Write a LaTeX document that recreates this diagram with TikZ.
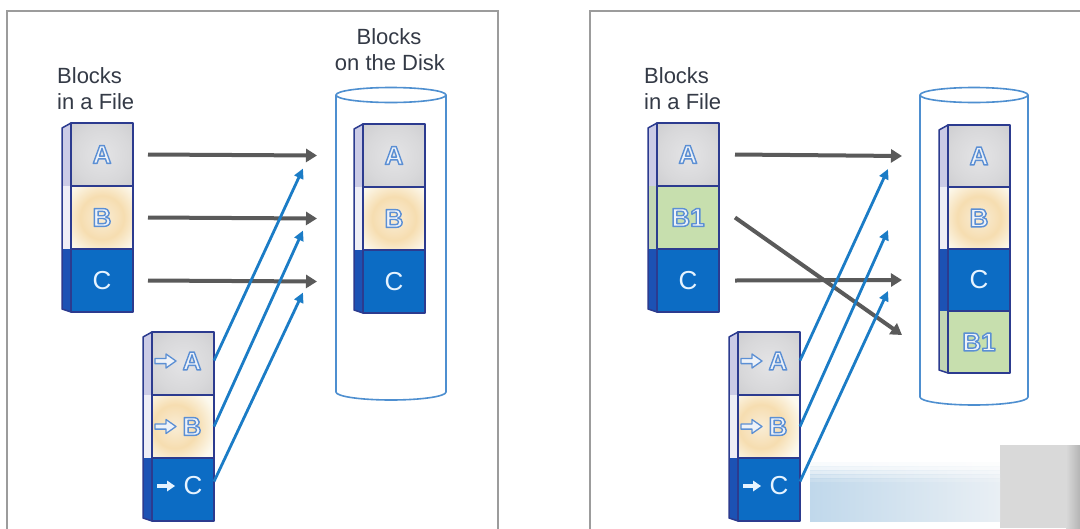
\documentclass[tikz,border=0pt]{standalone}
\usepackage{fontspec}
\setmainfont{Liberation Sans}
\usetikzlibrary{arrows.meta}
\definecolor{navy}{HTML}{2C3B8F}
\definecolor{framec}{HTML}{9C9C9C}
\definecolor{grayarrow}{HTML}{5A5A5A}
\definecolor{bluearrow}{HTML}{1B7CC6}
\definecolor{cylc}{HTML}{4E8FD0}
\definecolor{titlec}{HTML}{343A46}
\definecolor{gAo}{HTML}{B8B8BC}
\definecolor{gAm}{HTML}{C9C9CC}
\definecolor{gAn}{HTML}{D8D8DA}
\definecolor{gAi}{HTML}{E4E4E6}
\definecolor{creamc}{HTML}{FCF9EE}
\definecolor{peach}{HTML}{F6DDB0}
\definecolor{peachi}{HTML}{F9EDD6}
\definecolor{blueC}{HTML}{0C6CC4}
\definecolor{greenc}{HTML}{C7DFAE}
\definecolor{sideA}{HTML}{CBCBE6}
\definecolor{sideB}{HTML}{EEEEF6}
\definecolor{sideC}{HTML}{1C52B4}
\definecolor{sideG}{HTML}{C3D6B4}
\definecolor{olc}{HTML}{5B8FD4}
\definecolor{olf}{HTML}{EEF2F8}
\definecolor{clc}{HTML}{E6F3FF}
\definecolor{wmgray}{HTML}{D9D9D9}
\definecolor{wmdark}{HTML}{B4B4B4}
\definecolor{wmblue}{HTML}{C0D8EB}
\definecolor{wmlight}{HTML}{E9EFF4}
\pgfdeclareradialshading{glowA}{\pgfpoint{0bp}{0bp}}{color(0bp)=(gAi); color(14bp)=(gAn); color(26bp)=(gAm); color(34bp)=(gAo); color(50bp)=(gAo)}
\pgfdeclareradialshading{glowB}{\pgfpoint{0bp}{0bp}}{color(0bp)=(peachi); color(13bp)=(peach); color(25bp)=(creamc); color(50bp)=(creamc)}
\tikzset{
  blk/.style={rectangle, inner sep=0pt, outer sep=0pt, minimum width=62pt, anchor=north west},
  faceA/.style={fill=gAo}, faceB/.style={fill=creamc}, faceC/.style={fill=blueC}, faceG/.style={fill=greenc},
  bord/.style={draw=navy, line width=1.5pt, line join=round},
  lbl/.style={inner sep=0pt, font=\fontsize{26}{30}\selectfont},
  olbl/.style={inner sep=0pt, font=\fontsize{26}{30}\selectfont\bfseries},
  garr/.style={draw=grayarrow, line width=4pt, -{Triangle[length=11pt,width=13pt]}},
  barr/.style={draw=bluearrow, line width=2.8pt, -{Triangle[length=10pt,width=9.5pt]}},
  harr/.style={fill=olf, draw=olc, line width=1.3pt, line join=round},
  cyl/.style={draw=cylc, line width=1.6pt},
  frame/.style={draw=framec, line width=2pt},
  title/.style={inner sep=0pt, text=titlec, font=\fontsize{22}{26}\selectfont, anchor=base west},
  ctitle/.style={title, anchor=base}
}
\newcommand{\face}[5]{%
  \fill[side#5] (#2-9,#3) rectangle (#2,#3+#4);
  \node[blk, minimum height=#4pt, face#5] (#1) at (#2,#3) {};}
\newcommand{\glow}[4]{\begin{scope}\clip (#2.north west) rectangle (#2.south east); \shade[shading=#1] (#3) circle (#4); \end{scope}}
\newcommand{\colside}[3]{%
  \fill[white] (#1-10,#2+5.6) -- (#1-10,#2-1.5) -- (#1,#2-1.5) -- (#1,#2) -- cycle;
  \fill[white] (#1-10,#3-3.4) -- (#1-10,#3+1.5) -- (#1,#3+1.5) -- (#1,#3) -- cycle;
  \draw[bord] (#1,#2) -- (#1-9,#2+5) -- (#1-9,#3-3) -- (#1,#3);}
\newcommand{\bordr}[1]{\draw[bord] (#1.north west) rectangle (#1.south east);}
% outlined letters: fill-and-stroke text rendering mode
\newcommand{\olt}[3]{%
  \node[olbl,text=olf] (#1) at (#2) {\special{pdf:literal direct 2 Tr 1.4 w 1 j 0.357 0.561 0.831 RG}#3\special{pdf:literal direct 0 Tr}};}
\newcommand{\harrow}[1]{\draw[harr] (#1) ++(0,-2.6) -- ++(11,0) -- ++(0,-4.4) -- ++(10,7) -- ++(-10,7) -- ++(0,-4.4) -- ++(-11,0) -- cycle;}
\newcommand{\sarrow}[1]{\fill[clc] (#1) ++(0,-1.8) -- ++(10,0) -- ++(0,-3.7) -- ++(8,5.5) -- ++(-8,5.5) -- ++(0,-3.7) -- ++(-10,0) -- cycle;}
\begin{document}
\begin{tikzpicture}[x=1pt,y=-1pt]
\useasboundingbox (0,0) rectangle (1080,528);
\fill[white] (0,0) rectangle (1080,528);
% frames
\draw[frame] (7,530) -- (7,11) -- (498,11) -- (498,530);
\draw[frame] (590,530) -- (590,11) -- (1082,11);
% cylinders
\draw[cyl] (336,95) -- (336,392) arc[start angle=180, end angle=0, x radius=55, y radius=8] -- (446,95);
\draw[cyl] (391,95) ellipse [x radius=55, y radius=7.5];
\draw[cyl] (920,95) -- (920,397) arc[start angle=180, end angle=0, x radius=54, y radius=8] -- (1028,95);
\draw[cyl] (974,95) ellipse [x radius=54, y radius=7.5];
% titles
\node[title] (t1) at (57,83) {Blocks};
\node[title] (t2) at (57,109) {in a File};
\node[ctitle] (t3) at (389,44) {Blocks};
\node[ctitle] (t4) at (390,70) {on the Disk};
\node[title] (t5) at (644,83) {Blocks};
\node[title] (t6) at (644,109) {in a File};
% ---------- left panel: file column
\face{lA}{71}{123}{63}{A}
\face{lB}{71}{186}{63}{B}
\face{lC}{71}{249}{63}{C}
\glow{glowA}{lA}{lA.center}{50}
\glow{glowB}{lB}{lB.center}{42}
\colside{71}{123}{312}
\bordr{lA}\bordr{lB}\bordr{lC}
\olt{lAt}{lA.center}{A}
\olt{lBt}{lB.center}{B}
\node[lbl,text=clc] (lCt) at (lC.center) {C};
% pointer column
\face{pA}{152}{332}{63}{A}
\face{pB}{152}{395}{63}{B}
\face{pC}{152}{458}{63}{C}
\glow{glowA}{pA}{pA.center}{50}
\glow{glowB}{pB}{[xshift=-8pt]pB.center}{42}
\colside{152}{332}{521}
\bordr{pA}\bordr{pB}\bordr{pC}
\harrow{[xshift=-28pt,yshift=2.5pt]pA.center}
\olt{pAt}{[xshift=9pt,yshift=2.5pt]pA.center}{A}
\harrow{[xshift=-28pt]pB.center}
\olt{pBt}{[xshift=9pt]pB.center}{B}
\sarrow{[xshift=-26pt,yshift=3.5pt]pC.center}
\node[lbl,text=clc] (pCt) at ([xshift=10pt,yshift=3.5pt]pC.center) {C};
% disk column
\face{dA}{363}{124}{63}{A}
\face{dB}{363}{187}{63}{B}
\face{dC}{363}{250}{63}{C}
\glow{glowA}{dA}{dA.center}{50}
\glow{glowB}{dB}{dB.center}{42}
\colside{363}{124}{313}
\bordr{dA}\bordr{dB}\bordr{dC}
\olt{dAt}{dA.center}{A}
\olt{dBt}{dB.center}{B}
\node[lbl,text=clc] (dCt) at (dC.center) {C};
% ---------- right panel: file column
\face{rA}{657}{123}{63}{A}
\face{rB}{657}{186}{63}{G}
\face{rC}{657}{249}{63}{C}
\glow{glowA}{rA}{rA.center}{50}
\colside{657}{123}{312}
\bordr{rA}\bordr{rB}\bordr{rC}
\olt{rAt}{rA.center}{A}
\olt{rBt}{rB.center}{B1}
\node[lbl,text=clc] (rCt) at (rC.center) {C};
% pointer column
\face{qA}{738}{332}{63}{A}
\face{qB}{738}{395}{63}{B}
\face{qC}{738}{458}{63}{C}
\glow{glowA}{qA}{qA.center}{50}
\glow{glowB}{qB}{[xshift=-8pt]qB.center}{42}
\colside{738}{332}{521}
\bordr{qA}\bordr{qB}\bordr{qC}
\harrow{[xshift=-28pt,yshift=2.5pt]qA.center}
\olt{qAt}{[xshift=9pt,yshift=2.5pt]qA.center}{A}
\harrow{[xshift=-28pt]qB.center}
\olt{qBt}{[xshift=9pt]qB.center}{B}
\sarrow{[xshift=-26pt,yshift=3.5pt]qC.center}
\node[lbl,text=clc] (qCt) at ([xshift=10pt,yshift=3.5pt]qC.center) {C};
% disk column
\face{eA}{948}{125}{62}{A}
\face{eB}{948}{187}{62}{B}
\face{eC}{948}{249}{62}{C}
\face{eG}{948}{311}{62}{G}
\glow{glowA}{eA}{eA.center}{50}
\glow{glowB}{eB}{eB.center}{42}
\colside{948}{125}{373}
\bordr{eA}\bordr{eB}\bordr{eC}\bordr{eG}
\olt{eAt}{eA.center}{A}
\olt{eBt}{eB.center}{B}
\node[lbl,text=clc] (eCt) at (eC.center) {C};
\olt{eGt}{eG.center}{B1}
% ---------- connectors left
\draw[garr] ([xshift=15pt]lA.east) -- ([xshift=-46pt]dA.west);
\draw[garr] ([xshift=15pt]lB.east) -- ([xshift=-46pt]dB.west);
\draw[garr] ([xshift=15pt]lC.east) -- ([xshift=-46pt]dC.west);
\draw[barr] ([yshift=3pt]pA.east) -- ([xshift=-60pt,yshift=-13pt]dA.west);
\draw[barr] (pB.east) -- ([xshift=-60pt,yshift=-12pt]dB.west);
\draw[barr] ([yshift=8pt]pC.east) -- ([xshift=-60pt,yshift=-11pt]dC.west);
% ---------- connectors right
\draw[garr] ([xshift=16pt]rA.east) -- ([xshift=-46pt]eA.west);
\draw[garr] ([xshift=16pt]rB.east) -- ([xshift=-46pt,yshift=7pt]eG.west);
\draw[garr] ([xshift=16pt]rC.east) -- ([xshift=-46pt]eC.west);
\draw[barr] ([yshift=3pt]qA.east) -- ([xshift=-60pt,yshift=-13pt]eA.west);
\draw[barr] (qB.east) -- ([xshift=-60pt,yshift=-12pt]eB.west);
\draw[barr] ([yshift=8pt]qC.east) -- ([xshift=-60pt,yshift=-11pt]eC.west);
% ---------- overlay in the lower right corner
\fill[wmgray] (1000,445) rectangle (1080,528);
\shade[left color=wmgray, right color=wmdark] (1066,445) rectangle (1080,528);
\foreach \yy/\op in {462/0.1, 466/0.25, 470/0.45, 474/0.65, 478/0.85}{\shade[left color=wmblue, right color=wmlight, opacity=\op] (810,\yy) rectangle (1000,\yy+4);}
\shade[left color=wmblue, right color=wmlight] (810,482) rectangle (1000,521);
\end{tikzpicture}
\end{document}
